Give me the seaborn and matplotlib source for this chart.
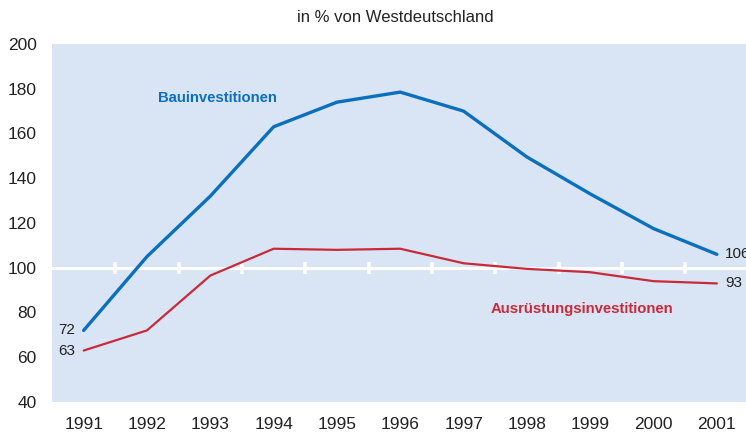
import matplotlib
matplotlib.use("Agg")
import matplotlib.pyplot as plt
import seaborn as sns
import pandas as pd

years = [1991, 1992, 1993, 1994, 1995, 1996, 1997, 1998, 1999, 2000, 2001]
bau = [72, 105, 132, 163, 174, 178.5, 170, 149.5, 133, 117.5, 106]
ausr = [63, 72, 96.5, 108.5, 108, 108.5, 102, 99.5, 98, 94, 93]
y_ticks = [40, 60, 80, 100, 120, 140, 160, 180, 200]
title = "in % von Westdeutschland"
name_bau = "Bauinvestitionen"
name_ausr = "Ausrüstungsinvestitionen"

blue = "#0a6fbd"
red = "#c92a3a"
bg = "#d9e4f4"

sns.set_theme(style="white")
plt.rcParams['font.family'] = ['Liberation Sans', 'DejaVu Sans']

df = pd.DataFrame({"Jahr": years * 2,
                   "Wert": bau + ausr,
                   "Serie": [name_bau] * len(years) + [name_ausr] * len(years)})

fig = plt.figure(figsize=(7.46, 4.38), dpi=100)
ax = fig.add_axes([52 / 746, 1 - 402 / 438, 1 - 52 / 746, 358 / 438])
ax.set_facecolor(bg)

# reference line at 100 with half-year ticks
ax.axhline(100, color="white", lw=2.2, zorder=1)
for i in range(len(years) - 1):
    xm = (years[i] + years[i + 1]) / 2
    ax.plot([xm, xm], [97.3, 102.7], color="white", lw=2.6, zorder=1, solid_capstyle="butt")

sns.lineplot(data=df, x="Jahr", y="Wert", hue="Serie",
             palette={name_bau: blue, name_ausr: red}, ax=ax, legend=False,
             zorder=3)
for ln in ax.get_lines():
    if ln.get_color() == blue:
        ln.set_linewidth(2.4)
    elif ln.get_color() == red:
        ln.set_linewidth(1.6)

ax.set_xlim(1990.5, 2001.46)
ax.set_ylim(40, 200)
ax.set_yticks(y_ticks)
ax.set_xticks(years)
ax.set_xticklabels([str(y) for y in years])
ax.tick_params(axis="both", length=0, labelsize=12.5, colors="#222222")
ax.tick_params(axis="y", pad=11)
ax.tick_params(axis="x", pad=11)
ax.set_xlabel("")
ax.set_ylabel("")
for s in ax.spines.values():
    s.set_visible(False)

fig.text(395 / 746, 1 - 17 / 438, title, ha="center", va="center", fontsize=12, color="#222222")

ax.text(1992.17, 176, name_bau, color=blue, fontsize=10.7, fontweight="bold", va="center", ha="left")
ax.text(1997.42, 81.5, name_ausr, color=red, fontsize=10.7, fontweight="bold", va="center", ha="left")

ax.text(years[0] - 0.13, bau[0], f"{bau[0]:g}", ha="right", va="center", fontsize=11, color="#222222")
ax.text(years[0] - 0.13, ausr[0], f"{ausr[0]:g}", ha="right", va="center", fontsize=11, color="#222222")
ax.text(years[-1] + 0.13, bau[-1], f"{bau[-1]:g}", ha="left", va="center", fontsize=11, color="#222222", clip_on=False)
ax.text(years[-1] + 0.13, ausr[-1], f"{ausr[-1]:g}", ha="left", va="center", fontsize=11, color="#222222")

fig.savefig("out.png", dpi=100)
